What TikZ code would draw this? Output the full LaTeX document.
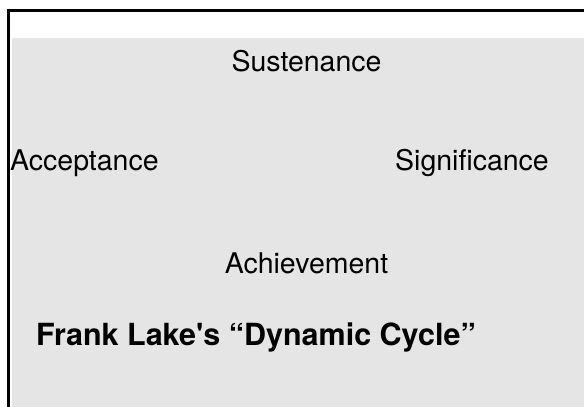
\documentclass[tikz,border=0pt]{standalone}
\usepackage{fontspec}
\setmainfont{TeX Gyre Heros}
\definecolor{panelgray}{HTML}{E5E5E5}

\begin{document}
\begin{tikzpicture}[x=1pt, y=-1pt,
  word/.style={anchor=base, inner sep=0pt, font=\fontsize{28.5}{34}\selectfont}]
\useasboundingbox (0,0) rectangle (584,407);
% panel and its frame
\fill[panelgray] (12,37.7) rectangle (590,410);
\draw[line width=3pt] (8.3,410) -- (8.3,10.5) -- (590,10.5);
% the four stages
\node[word] (sust) at (306.5,71) {Sustenance};
\node[word, anchor=base west] (acc) at (10,170) {Acceptance};
\node[word] (sig) at (472,170) {Significance};
\node[word] (ach) at (306.5,273) {Achievement};
% caption
\node[word, anchor=base west, font=\fontsize{30.5}{36}\selectfont\bfseries] (title) at (36,345)
  {Frank Lake\textquotesingle s ``Dynamic Cycle''};
\end{tikzpicture}
\end{document}
